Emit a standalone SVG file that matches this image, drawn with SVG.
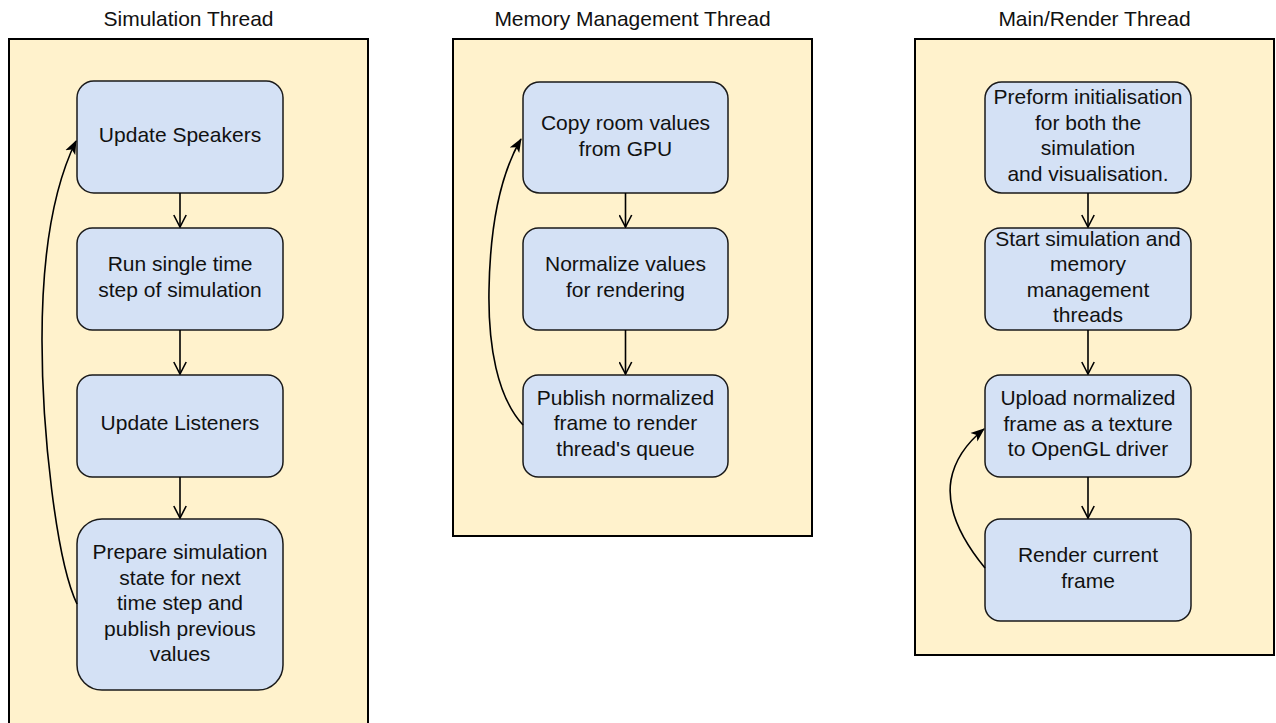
<svg xmlns="http://www.w3.org/2000/svg" width="1276" height="723" viewBox="0 0 1276 723">
<defs>
<style>
.title{font-family:"Liberation Sans",Arial,sans-serif;font-size:21px;fill:#111;text-anchor:middle}
.lbl{font-family:"Liberation Sans",Arial,sans-serif;font-size:21px;fill:#111;text-anchor:middle}
.cont{fill:#fff2cc;stroke:#000;stroke-width:2}
.node{fill:#d4e1f5;stroke:#1a1a1a;stroke-width:1.5}
.edge{fill:none;stroke:#000;stroke-width:1.6}
</style>
<marker id="open" viewBox="0 0 14 14" refX="13" refY="7" markerWidth="14" markerHeight="14" markerUnits="userSpaceOnUse" orient="auto">
<path d="M1,0.8 L13,7 L1,13.2" fill="none" stroke="#000" stroke-width="1.6"/>
</marker>
<marker id="classic" viewBox="0 0 14 12" refX="13" refY="6" markerWidth="14" markerHeight="12" markerUnits="userSpaceOnUse" orient="auto">
<path d="M0,0.5 L14,6 L0,11.5 L3.5,6 Z" fill="#000"/>
</marker>
</defs>

<g id="sim-thread">
<text class="title" x="188.5" y="26">Simulation Thread</text>
<rect class="cont" x="9" y="39" width="359" height="700"/>
</g>
<g id="mem-thread">
<text class="title" x="632.5" y="26">Memory Management Thread</text>
<rect class="cont" x="453" y="39" width="359" height="497"/>
</g>
<g id="main-thread">
<text class="title" x="1094.5" y="26">Main/Render Thread</text>
<rect class="cont" x="915" y="39" width="359" height="616"/>
</g>

<g id="update-speakers">
<rect class="node" x="77" y="81" width="206" height="112" rx="16.8"/>
<text class="lbl" x="180" y="142">Update Speakers</text>
</g>
<g id="run-step">
<rect class="node" x="77" y="228" width="206" height="102" rx="15.3"/>
<text class="lbl" x="180" y="271">Run single time</text>
<text class="lbl" x="180" y="296.5">step of simulation</text>
</g>
<g id="update-listeners">
<rect class="node" x="77" y="375" width="206" height="102" rx="15.3"/>
<text class="lbl" x="180" y="430">Update Listeners</text>
</g>
<g id="prepare-state">
<rect class="node" x="77" y="519" width="206" height="171" rx="25"/>
<text class="lbl" x="180" y="559">Prepare simulation</text>
<text class="lbl" x="180" y="584.5">state for next</text>
<text class="lbl" x="180" y="610">time step and</text>
<text class="lbl" x="180" y="635.5">publish previous</text>
<text class="lbl" x="180" y="661">values</text>
</g>

<g id="copy-room">
<rect class="node" x="523" y="82" width="205" height="111" rx="16.6"/>
<text class="lbl" x="625.5" y="130">Copy room values</text>
<text class="lbl" x="625.5" y="155.5">from GPU</text>
</g>
<g id="normalize">
<rect class="node" x="523" y="228" width="205" height="102" rx="15.3"/>
<text class="lbl" x="625.5" y="271">Normalize values</text>
<text class="lbl" x="625.5" y="296.5">for rendering</text>
</g>
<g id="publish">
<rect class="node" x="523" y="375" width="205" height="102" rx="15.3"/>
<text class="lbl" x="625.5" y="404.5">Publish normalized</text>
<text class="lbl" x="625.5" y="430">frame to render</text>
<text class="lbl" x="625.5" y="455.5">thread's queue</text>
</g>

<g id="preform-init">
<rect class="node" x="985" y="82" width="206" height="111" rx="16.6"/>
<text class="lbl" x="1088" y="104">Preform initialisation</text>
<text class="lbl" x="1088" y="129.5">for both the</text>
<text class="lbl" x="1088" y="155">simulation</text>
<text class="lbl" x="1088" y="180.5">and visualisation.</text>
</g>
<g id="start-threads">
<rect class="node" x="985" y="228" width="206" height="102" rx="15.3"/>
<text class="lbl" x="1088" y="245.5">Start simulation and</text>
<text class="lbl" x="1088" y="271">memory</text>
<text class="lbl" x="1088" y="296.5">management</text>
<text class="lbl" x="1088" y="322">threads</text>
</g>
<g id="upload">
<rect class="node" x="985" y="375" width="206" height="102" rx="15.3"/>
<text class="lbl" x="1088" y="405">Upload normalized</text>
<text class="lbl" x="1088" y="430.5">frame as a texture</text>
<text class="lbl" x="1088" y="456">to OpenGL driver</text>
</g>
<g id="render-frame">
<rect class="node" x="985" y="519" width="206" height="102" rx="15.3"/>
<text class="lbl" x="1088" y="562">Render current</text>
<text class="lbl" x="1088" y="587.5">frame</text>
</g>

<g id="connectors">
<path class="edge" d="M180,193 L180,227" marker-end="url(#open)"/>
<path class="edge" d="M180,330 L180,374" marker-end="url(#open)"/>
<path class="edge" d="M180,477 L180,518" marker-end="url(#open)"/>
<path class="edge" d="M625.5,193 L625.5,227" marker-end="url(#open)"/>
<path class="edge" d="M625.5,330 L625.5,374" marker-end="url(#open)"/>
<path class="edge" d="M1088,193 L1088,227" marker-end="url(#open)"/>
<path class="edge" d="M1088,330 L1088,374" marker-end="url(#open)"/>
<path class="edge" d="M1088,477 L1088,518" marker-end="url(#open)"/>
<path class="edge" d="M77,604 C56,560 42,430 42,340 C42,260 52,190 76,141" marker-end="url(#classic)"/>
<path class="edge" d="M523,425 C497,397 488,345 489,290 C490,230 500,175 521,139" marker-end="url(#classic)"/>
<path class="edge" d="M985,568 C962,540 946,510 951,480 C955,458 968,442 984,429" marker-end="url(#classic)"/>
</g>
</svg>
